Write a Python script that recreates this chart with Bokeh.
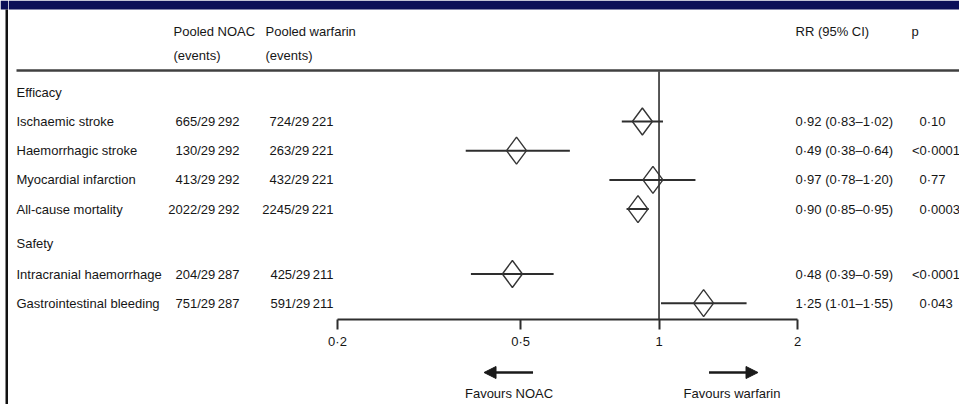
import math
from bokeh.plotting import figure
from bokeh.models import (Range1d, LogAxis, FixedTicker, Arrow, NormalHead,
                          ColumnDataSource)
from bokeh.layouts import column, row
from bokeh.embed import file_html
from bokeh.resources import INLINE
from bokeh.core.properties import value

# ---------------- data ----------------
groups = ["Efficacy", "Efficacy", "Efficacy", "Efficacy", "Safety", "Safety"]
outcomes = ["Ischaemic stroke", "Haemorrhagic stroke", "Myocardial infarction",
            "All-cause mortality", "Intracranial haemorrhage",
            "Gastrointestinal bleeding"]
noac_events = [665, 130, 413, 2022, 204, 751]
noac_total = [29292, 29292, 29292, 29292, 29287, 29287]
warf_events = [724, 263, 432, 2245, 425, 591]
warf_total = [29221, 29221, 29221, 29221, 29211, 29211]
rr = [0.92, 0.49, 0.97, 0.90, 0.48, 1.25]
rr_lo = [0.83, 0.38, 0.78, 0.85, 0.39, 1.01]
rr_hi = [1.02, 0.64, 1.20, 0.95, 0.59, 1.55]
p_values = ["0·10", "<0·0001", "0·77", "0·0003", "<0·0001", "0·043"]
axis_ticks = [0.2, 0.5, 1, 2]
axis_tick_labels = ["0·2", "0·5", "1", "2"]
header_noac = ["Pooled NOAC", "(events)"]
header_warf = ["Pooled warfarin", "(events)"]
header_rr = "RR (95% CI)"
header_p = "p"
favours = ["Favours NOAC", "Favours warfarin"]

# ---------------- styling / layout ----------------
FONT_NAME = "Liberation Sans"
FS_STR = "13px"
FONT = value(FONT_NAME)
FS = value(FS_STR)
TXT = "#161616"
LINE = "#2e2e2e"
NAVY = "#0b0f57"

STRIP = 8          # left strip (border) width
W = 959 - STRIP    # width of main figure
FRAME_H = 319
FOOT_H = 52
PX02 = 337.0       # page x of RR 0.2
DEC = 460.0        # pixels per decade
L02 = math.log10(0.2)


def px2rr(px):
    """page x (px) -> RR value on the log scale"""
    return 10 ** (L02 + (px - PX02) / DEC)


def off2rr(off):
    """offset in px from RR = 1 -> RR value"""
    return 10 ** (off / DEC)


def fmt_events(e, n):
    return f"{e}/{n // 1000}\u2009{n % 1000:03d}"


def fmt_rr(a, b, c):
    return f"{a:.2f} ({b:.2f}\u2013{c:.2f})".replace(".", "·")


# row positions (px from top)
ROW = 29.2
heading_y = {"Efficacy": 91.5, "Safety": 243.0}
first_y = {"Efficacy": 121.0, "Safety": 273.5}
row_y = []
count = {}
for g in groups:
    k = count.get(g, 0)
    row_y.append(first_y[g] + k * ROW)
    count[g] = k + 1

xr = Range1d(px2rr(STRIP), px2rr(STRIP + W))


def clean(fig):
    fig.outline_line_color = None
    fig.background_fill_color = "white"
    fig.border_fill_color = "white"
    fig.grid.visible = False


p = figure(x_axis_type="log", x_range=xr, y_range=Range1d(FRAME_H, 0),
           frame_width=W, frame_height=FRAME_H, min_border=0,
           toolbar_location=None, output_backend="svg",
           x_axis_location=None, y_axis_location=None)
clean(p)

# top band
p.quad(left=px2rr(STRIP), right=px2rr(STRIP + W), top=0, bottom=9,
       fill_color=NAVY, line_color=None)

# header rule
p.segment(x0=[px2rr(16)], x1=[px2rr(STRIP + W)], y0=[70], y1=[70],
          line_color="#404040", line_width=2.5)
# reference line at RR = 1
p.segment(x0=[1], x1=[1], y0=[71], y1=[FRAME_H], line_color=LINE, line_width=1.6)


def txt(fig, xs, ys, texts, align="left", offs=None):
    src = ColumnDataSource(dict(x=xs, y=ys, t=texts,
                                o=offs if offs is not None else [0] * len(xs)))
    fig.text(x="x", y="y", text="t", x_offset="o", source=src, text_align=align,
             text_baseline="middle", text_font=FONT, text_font_size=FS,
             text_color=TXT)


txt(p, [px2rr(173)] * 2, [30.5, 55], header_noac)
txt(p, [px2rr(265)] * 2, [30.5, 55], header_warf)
txt(p, [px2rr(795)], [30.5], [header_rr])
txt(p, [px2rr(911)], [30.5], [header_p])

# group headings and outcome labels
heads = list(dict.fromkeys(groups))
txt(p, [px2rr(16)] * len(heads), [heading_y[h] for h in heads], heads)
txt(p, [px2rr(16)] * len(outcomes), row_y, outcomes)

# event columns
txt(p, [px2rr(239)] * len(outcomes), row_y,
    [fmt_events(e, n) for e, n in zip(noac_events, noac_total)], align="right")
txt(p, [px2rr(333)] * len(outcomes), row_y,
    [fmt_events(e, n) for e, n in zip(warf_events, warf_total)], align="right")

# RR and p columns
txt(p, [px2rr(795)] * len(outcomes), row_y,
    [fmt_rr(a, b, c) for a, b, c in zip(rr, rr_lo, rr_hi)])
txt(p, [px2rr(919)] * len(outcomes), row_y, p_values,
    offs=[-7.5 if s.startswith("<") else 0 for s in p_values])

# CI lines
p.segment(x0=rr_lo, x1=rr_hi, y0=row_y, y1=row_y, line_color=LINE, line_width=2)

# diamonds (20 px wide, 27 px tall)
f = 10 ** (10 / DEC)
dxs = [[v / f, v, v * f, v] for v in rr]
dys = [[y, y - 13.5, y, y + 13.5] for y in row_y]
p.patches(xs=dxs, ys=dys, fill_color=None, line_color="#353535", line_width=1.4)

# axis
ax = LogAxis(ticker=FixedTicker(ticks=axis_ticks, minor_ticks=[]),
             bounds=(axis_ticks[0], axis_ticks[-1]),
             major_label_overrides={t: l for t, l in zip(axis_ticks, axis_tick_labels)},
             axis_line_width=2, axis_line_color=LINE,
             major_tick_in=0, major_tick_out=10, major_tick_line_width=2,
             major_tick_line_color=LINE, minor_tick_line_color=None,
             major_label_standoff=4, major_label_text_font=FONT_NAME,
             major_label_text_font_size=FS_STR, major_label_text_color=TXT)
p.add_layout(ax, "below")

# footer with the "favours" arrows
ft = figure(x_axis_type="log", x_range=xr, y_range=Range1d(FOOT_H, 0),
            frame_width=W, frame_height=FOOT_H, min_border=0,
            toolbar_location=None, output_backend="svg",
            x_axis_location=None, y_axis_location=None)
clean(ft)

AY = 21
for x0, x1 in [(off2rr(-126), off2rr(-175)), (off2rr(50), off2rr(99))]:
    ft.add_layout(Arrow(end=NormalHead(size=12, fill_color="#1a1a1a", line_color="#1a1a1a"),
                        x_start=x0, y_start=AY, x_end=x1, y_end=AY,
                        line_width=2.5, line_color="#1a1a1a"))
txt(ft, [off2rr(-150), off2rr(73)], [42, 42], favours, align="center")

# left strip: navy band corner and black page border
lb = figure(x_range=Range1d(0, STRIP), y_range=Range1d(404, 0),
            frame_width=STRIP, frame_height=404, min_border=0,
            toolbar_location=None, output_backend="svg",
            x_axis_location=None, y_axis_location=None)
clean(lb)
lb.quad(left=0, right=STRIP, top=0, bottom=9, fill_color=NAVY, line_color=None)
lb.quad(left=5, right=8, top=9, bottom=404, fill_color="#111111", line_color=None)

layout = row(lb, column(p, ft, spacing=0), spacing=0)
open("out.html", "w").write(file_html(layout, INLINE))
